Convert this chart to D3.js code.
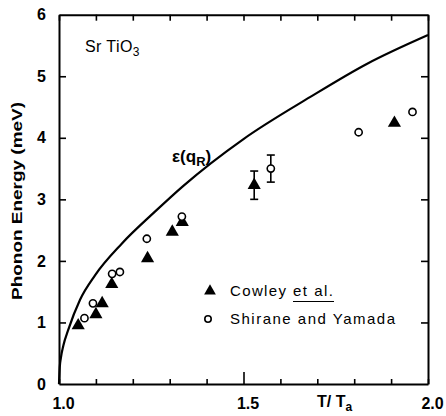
<!DOCTYPE html>
<html>
<head>
<meta charset="utf-8">
<script src="https://cdn.jsdelivr.net/npm/d3@7/dist/d3.min.js"></script>
<style>
  html, body { margin: 0; padding: 0; background: #fff; }
  svg { display: block; }
  text { font-family: "Liberation Sans", "DejaVu Sans", sans-serif; fill: #000; }
</style>
</head>
<body>
<svg id="chart" width="446" height="416"></svg>
<script>
// Reduced temperature T/Ta
const cowleyT = [1.052, 1.100, 1.117, 1.143, 1.240, 1.307, 1.334, 1.529, 1.909];
// Soft-mode phonon energy (meV), Cowley et al.
const cowleyE = [0.95, 1.13, 1.31, 1.62, 2.04, 2.47, 2.63, 3.23, 4.24];
const cowleyErr = [0, 0, 0, 0, 0, 0, 0, 0.23, 0];

const shiraneT = [1.069, 1.092, 1.144, 1.165, 1.238, 1.333, 1.574, 1.812, 1.958];
const shiraneE = [1.07, 1.31, 1.79, 1.82, 2.36, 2.72, 3.50, 4.09, 4.42];
const shiraneErr = [0, 0, 0, 0, 0, 0, 0.22, 0, 0];

// Calculated curve ε(q_R)
const curveT = [1.0, 1.002, 1.005, 1.012, 1.025, 1.057, 1.098, 1.17, 1.26, 1.337, 1.5, 1.68, 1.834, 2.0];
const curveE = [0.0, 0.27, 0.42, 0.63, 0.88, 1.37, 1.77, 2.28, 2.80, 3.22, 3.98, 4.66, 5.20, 5.67];

const xMajor = [1.0, 1.5, 2.0];
const xMinor = d3.range(11).map(i => 1 + i / 10);
const yTicks = [0, 1, 2, 3, 4, 5, 6];

const svg = d3.select("#chart");
const plotL = 59, plotR = 428, plotT = 14.7, plotB = 384;

const x = d3.scaleLinear().domain([1, 2]).range([plotL, plotR]);
const y = d3.scaleLinear().domain([0, 6]).range([plotB, plotT]);

// Frame axes with inward ticks
function styleAxis(g) {
  g.select(".domain").attr("stroke", "#000").attr("stroke-width", 2);
  g.selectAll(".tick line").attr("stroke", "#000").attr("stroke-width", 1.6);
}

const xb = svg.append("g").attr("transform", `translate(0,${plotB})`)
  .call(d3.axisBottom(x).tickValues(xMinor).tickSizeInner(-5).tickSizeOuter(0)
    .tickFormat(d => xMajor.some(v => Math.abs(v - d) < 1e-9) ? d.toFixed(1) : ""));
xb.call(styleAxis);
xb.selectAll(".tick line").attr("y2", d => Math.abs(d - 1.5) < 1e-9 ? -12 : -5);
xb.selectAll(".tick text").attr("y", 14).attr("dx", 4)
  .style("font-size", "16px").style("font-weight", "bold");

const xt = svg.append("g").attr("transform", `translate(0,${plotT})`)
  .call(d3.axisTop(x).tickValues(xMinor).tickSizeInner(-6).tickSizeOuter(0).tickFormat(""));
xt.call(styleAxis);

const yl = svg.append("g").attr("transform", `translate(${plotL},0)`)
  .call(d3.axisLeft(y).tickValues(yTicks).tickSizeInner(-7).tickSizeOuter(0).tickFormat(d3.format("d")));
yl.call(styleAxis);
yl.selectAll(".tick line").filter(d => d === 0 || d === 6).remove();
yl.selectAll(".tick text").attr("x", -13)
  .style("font-size", "16px").style("font-weight", "bold");

const yr = svg.append("g").attr("transform", `translate(${plotR},0)`)
  .call(d3.axisRight(y).tickValues(yTicks).tickSizeInner(-7).tickSizeOuter(0).tickFormat(""));
yr.call(styleAxis);
yr.selectAll(".tick line").filter(d => d === 0 || d === 6).remove();

svg.selectAll(".domain").attr("fill", "none");

// Axis titles
svg.append("text")
  .attr("transform", "translate(22,201) rotate(-90)")
  .attr("text-anchor", "middle")
  .attr("textLength", 198).attr("lengthAdjust", "spacingAndGlyphs")
  .style("font-size", "15px").style("font-weight", "bold")
  .text("Phonon Energy (meV)");

const tt = svg.append("text").attr("x", 317).attr("y", 407)
  .style("font-size", "16px").style("font-weight", "bold");
tt.append("tspan").text("T/ T");
tt.append("tspan").attr("dy", 4).style("font-size", "12px").text("a");

// Material label
const mat = svg.append("text").attr("x", 85).attr("y", 52).style("font-size", "16px")
  .style("letter-spacing", "0.4px");
mat.append("tspan").text("Sr TiO");
mat.append("tspan").attr("dy", 4).style("font-size", "12px").text("3");

// Theory curve
const line = d3.line().x((d, i) => x(curveT[i])).y((d, i) => y(curveE[i])).curve(d3.curveMonotoneX);
svg.append("path").datum(curveE)
  .attr("d", line).attr("fill", "none").attr("stroke", "#000").attr("stroke-width", 2.2);

const lab = svg.append("text").attr("x", 172).attr("y", 162)
  .style("font-size", "17px").style("font-weight", "bold");
lab.append("tspan").text("\u03b5(q");
lab.append("tspan").attr("dy", 4).style("font-size", "13px").text("R");
lab.append("tspan").attr("dy", -4).text(")");

// Error bars
function errorBars(T, E, err) {
  const g = svg.append("g").attr("stroke", "#000").attr("stroke-width", 1.6);
  T.forEach((t, i) => {
    if (!err[i]) return;
    const cx = x(t), y1 = y(E[i] - err[i]), y2 = y(E[i] + err[i]);
    g.append("line").attr("x1", cx).attr("x2", cx).attr("y1", y1).attr("y2", y2);
    g.append("line").attr("x1", cx - 4).attr("x2", cx + 4).attr("y1", y1).attr("y2", y1);
    g.append("line").attr("x1", cx - 4).attr("x2", cx + 4).attr("y1", y2).attr("y2", y2);
  });
}
errorBars(cowleyT, cowleyE, cowleyErr);
errorBars(shiraneT, shiraneE, shiraneErr);

const tri = d3.symbol().type(d3.symbolTriangle).size(75);

svg.append("g").selectAll("path").data(cowleyE).join("path")
  .attr("transform", (d, i) => `translate(${x(cowleyT[i])},${y(d)})`)
  .attr("d", tri).attr("fill", "#000");

svg.append("g").selectAll("circle").data(shiraneE).join("circle")
  .attr("cx", (d, i) => x(shiraneT[i])).attr("cy", d => y(d)).attr("r", 3.6)
  .attr("fill", "#fff").attr("stroke", "#000").attr("stroke-width", 1.6);

// Legend
const leg = svg.append("g").style("font-size", "15px");
leg.append("path").attr("transform", "translate(210,291)")
  .attr("d", d3.symbol().type(d3.symbolTriangle).size(60)).attr("fill", "#000");
leg.append("circle").attr("cx", 208).attr("cy", 319).attr("r", 3.2)
  .attr("fill", "#fff").attr("stroke", "#000").attr("stroke-width", 1.6);
leg.append("text").attr("x", 230).attr("y", 296)
  .attr("textLength", 56).attr("lengthAdjust", "spacing").text("Cowley");
leg.append("text").attr("x", 293).attr("y", 296)
  .attr("textLength", 40).attr("lengthAdjust", "spacing").text("et al.");
leg.append("line").attr("x1", 293).attr("x2", 334).attr("y1", 301.5).attr("y2", 301.5)
  .attr("stroke", "#000").attr("stroke-width", 1.2);
leg.append("text").attr("x", 230).attr("y", 324)
  .attr("textLength", 165).attr("lengthAdjust", "spacing").text("Shirane and Yamada");
</script>
</body>
</html>
